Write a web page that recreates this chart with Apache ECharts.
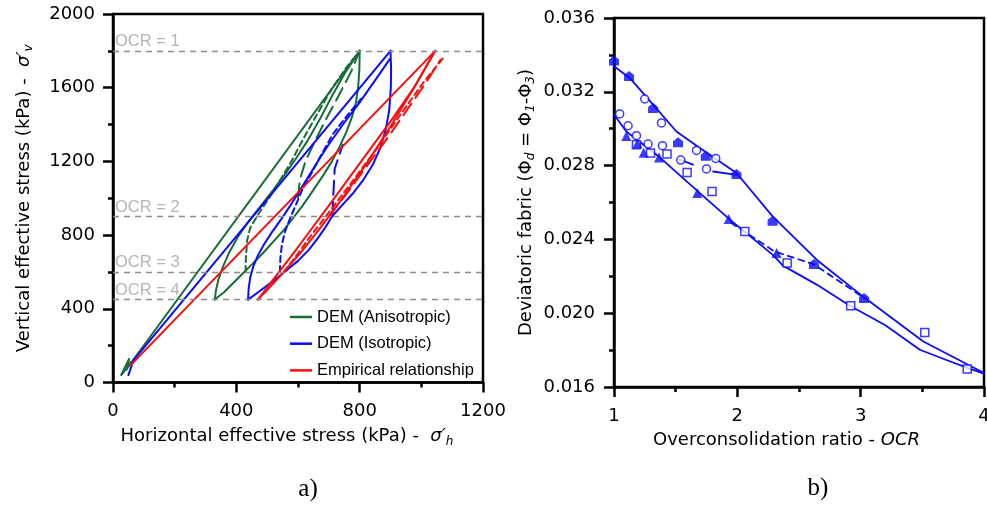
<!DOCTYPE html>
<html><head><meta charset="utf-8">
<script src="https://cdn.jsdelivr.net/npm/echarts@6/dist/echarts.min.js"></script>
<style>html,body{margin:0;padding:0;background:#fff;}#c{width:987px;height:507px;}</style>
</head><body><div id="c"></div>
<script>
// ---------- Panel a) : [horizontal effective stress, vertical effective stress] (kPa) ----------
const xTicksA = [0, 400, 800, 1200];
const yTicksA = [0, 400, 800, 1200, 1600, 2000];
const ocrLevels = [1, 2, 3, 4];
const ocrStress = [1800, 900, 600, 450];

const greenToe = [[27,42],[52,128],[44,70],[58,112]];
const greenLoad = [[27,42],[45,78],[60,110],[800,1800]];
const greenUnloadOCR4 = [[800,1800],[799,1700],[795,1600],[788,1520],[775,1440],[757,1360],[735,1280],[710,1200],[680,1120],[648,1040],[615,960],[585,895],[555,830],[520,765],[485,700],[450,640],[420,590],[390,540],[360,490],[330,450]];
const greenReloadOCR4 = [[330,450],[334,500],[342,560],[357,630],[378,710],[405,790],[440,875],[480,960],[520,1045],[560,1135],[595,1220],[630,1310],[668,1420],[712,1560],[756,1690],[800,1800]];
const greenReloadOCR3 = [[430,600],[431,680],[435,770],[445,840],[470,910],[500,985],[530,1065],[575,1190],[616,1318],[660,1450],[708,1590],[757,1710],[800,1800]];
const greenReloadOCR2 = [[600,1005],[606,1100],[624,1200],[652,1300],[688,1420],[733,1560],[773,1690],[800,1800]];

const blueLoad = [[50,40],[66,120],[900,1800]];
const blueUnloadOCR4 = [[900,1800],[902,1700],[901,1600],[896,1480],[884,1370],[866,1270],[842,1180],[812,1100],[780,1030],[745,965],[712,905],[690,845],[665,785],[635,720],[600,660],[560,605],[515,545],[475,495],[438,450]];
const blueReloadOCR4 = [[438,450],[440,510],[445,570],[455,630],[470,690],[490,750],[515,815],[545,885],[575,960],[605,1040],[635,1120],[668,1210],[703,1300],[750,1410],[800,1520],[850,1640],[897,1754]];
const blueReloadOCR3 = [[541,600],[543,680],[548,750],[558,820],[574,890],[592,960],[612,1040],[645,1140],[680,1250],[714,1350],[760,1450],[805,1540]];
const blueReloadOCR2 = [[712,905],[714,1000],[719,1160],[745,1290]];

const redLoad = [[55,90],[1045,1800]];
const redUnloadOCR4 = [[1045,1800],[976,1600],[904,1400],[827,1200],[744,1000],[700,900],[654,800],[606,700],[554,600],[499,500],[470,450]];
const redReloadOCR4 = [[470,450],[520,560],[580,690],[640,825],[700,960],[770,1120],[840,1280],[910,1440],[980,1610],[1045,1800]];
const redReloadOCR3 = [[554,600],[600,700],[643,800],[690,900],[780,1100],[860,1280],[935,1460],[1006,1627],[1075,1770]];
const redReloadOCR2 = [[700,900],[760,1030],[830,1190],[900,1350],[962,1500],[1020,1640],[1062,1752]];

// ---------- Panel b) : [OCR, deviatoric fabric] ----------
const xTicksB = [1, 2, 3, 4];
const yTicksB = [0.016, 0.020, 0.024, 0.028, 0.032, 0.036];
const upperLine = [[1.0,0.03338],[1.127,0.03275],[1.317,0.0313],[1.506,0.02985],[1.696,0.02895],[1.993,0.0276],[2.286,0.02525],[2.643,0.0229],[3.027,0.02086],[3.508,0.01847],[4.0,0.01676]];
const lowerLine = [[1.0,0.03076],[1.1,0.02985],[1.371,0.02845],[1.696,0.02651],[1.94,0.02507],[2.29,0.02315],[2.37,0.02258],[2.643,0.02155],[2.913,0.0204],[3.2,0.01935],[3.48,0.01802],[3.7,0.01745],[3.86,0.01705],[4.0,0.01672]];
const dashedLine = [[1.95,0.0249],[2.05,0.02445],[2.3,0.02335],[2.62,0.02265],[3.03,0.02082]];
const shortSeg1 = [[1.533,0.02832],[1.641,0.02805]];
const shortSeg2 = [[1.804,0.02768],[1.993,0.0275]];
const filledHouse = [[1.0,0.03369],[1.122,0.03286],[1.317,0.03112],[1.519,0.02926],[1.744,0.02854],[1.993,0.02754],[2.286,0.02501],[2.621,0.02267],[3.027,0.02082]];
const openCircles = [[1.046,0.0308],[1.114,0.03016],[1.182,0.02962],[1.249,0.03161],[1.276,0.02917],[1.385,0.03031],[1.393,0.02908],[1.541,0.0283],[1.669,0.02882],[1.75,0.02782],[1.825,0.02839]];
const openSquares = [[1.182,0.02913],[1.296,0.02868],[1.43,0.02863],[1.593,0.02762],[1.795,0.0266],[2.061,0.02443],[2.404,0.02272],[2.919,0.02041],[3.52,0.01896],[3.864,0.01698]];
const filledTriangles = [[1.1,0.0296],[1.19,0.0292],[1.24,0.0287],[1.365,0.02844],[1.675,0.02651],[1.93,0.0251],[2.318,0.02326]];

const GREEN = '#176c38', BLUE = '#0a0aff', RED = '#ff0a0a';
const FA = 'DejaVu Sans', FL = 'Liberation Sans';
const SHORT = [6,4], LONG = [14,7];

function ln(name, data, color, type, gi, width) {
  return { name, type:'line', xAxisIndex:gi, yAxisIndex:gi, data, symbol:'none', showSymbol:false,
    smooth:false, lineStyle:{color, width: width || 2, type: type || 'solid', join:'round', cap:'round'},
    itemStyle:{color}, silent:true, z:3, animation:false };
}
function sc(name, data, symbol, size, style) {
  return { name, type:'scatter', xAxisIndex:1, yAxisIndex:1, data, symbol, symbolSize:size,
    itemStyle:style, silent:true, clip:false, z:5, animation:false };
}
function axisCommon(min, max, interval, fmt) {
  return {
    type:'value', min, max, interval, scale:false,
    axisLine:{show:true, onZero:false, lineStyle:{color:'#000', width:2.5}},
    axisTick:{show:true, inside:false, length:10, lineStyle:{color:'#000', width:2.5}},
    minorTick:{show:true, splitNumber:2, length:5, lineStyle:{color:'#000', width:2.5}},
    splitLine:{show:false}, minorSplitLine:{show:false},
    axisLabel:{show:true, color:'#000', fontFamily:FA, fontSize:18, margin:20, formatter:fmt,
      showMinLabel:true, showMaxLabel:true, hideOverlap:false},
    nameLocation:'middle', nameMoveOverlap:false
  };
}

const nameRich = {
  t:{fontFamily:FA, fontSize:18, color:'#000', lineHeight:22},
  s:{fontFamily:FA, fontSize:18, color:'#000', lineHeight:22, fontStyle:'italic'},
  i:{fontFamily:FA, fontSize:18, color:'#000', lineHeight:22, fontStyle:'italic'},
  sub:{fontFamily:FA, fontSize:12, color:'#000', lineHeight:12, fontStyle:'italic', verticalAlign:'bottom'}
};
const plain = v => String(v);

const xA = Object.assign(axisCommon(xTicksA[0], xTicksA[xTicksA.length-1], xTicksA[1]-xTicksA[0], plain), {
  gridIndex:0, name:'{t|Horizontal effective stress (kPa) -  }{s|σ′}{sub|h}', nameGap:43,
  nameTextStyle:{fontFamily:FA, fontSize:18, color:'#000', rich:nameRich, padding:[0,22,0,0]} });
const yA = Object.assign(axisCommon(yTicksA[0], yTicksA[yTicksA.length-1], yTicksA[1]-yTicksA[0], plain), {
  gridIndex:0, name:'{t|Vertical effective stress (kPa) -  }{s|σ′}{sub|v}', nameGap:78,
  nameTextStyle:{fontFamily:FA, fontSize:18, color:'#000', rich:nameRich} });
yA.axisLabel.margin = 18;
const xB = Object.assign(axisCommon(xTicksB[0], xTicksB[xTicksB.length-1], xTicksB[1]-xTicksB[0], plain), {
  gridIndex:1, name:'{t|Overconsolidation ratio - }{i|OCR}', nameGap:42,
  nameTextStyle:{fontFamily:FA, fontSize:18, color:'#000', rich:nameRich, padding:[0,25,0,0]} });
const yB = Object.assign(axisCommon(yTicksB[0], yTicksB[yTicksB.length-1], 0.004, v => v.toFixed(3)), {
  gridIndex:1, name:'{t|Deviatoric fabric (Φ}{sub|d}{t| = Φ}{sub|1}{t|-Φ}{sub|3}{t|)}', nameGap:77,
  nameTextStyle:{fontFamily:FA, fontSize:18, color:'#000', rich:nameRich} });
yB.axisLabel.margin = 19;

const series = [
  { name:'OCR lines', type:'line', xAxisIndex:0, yAxisIndex:0, data:[], silent:true, z:1, animation:false,
    markLine:{ silent:true, symbol:['none','none'], animation:false,
      lineStyle:{color:'#8c8c8c', type:[6,5], width:1.3},
      label:{show:true, position:'insideStartTop', distance:[2,1], formatter:'{b}', color:'#b5b5b5', fontFamily:FL, fontSize:16.5},
      data: ocrStress.map((v,i) => ({yAxis:v, name:'OCR = ' + ocrLevels[i]})) } },
  ln('DEM (Anisotropic)', greenLoad, GREEN, 'solid', 0),
  ln('g toe', greenToe, GREEN, 'solid', 0),
  ln('g unload 4', greenUnloadOCR4, GREEN, 'solid', 0),
  ln('g reload 4', greenReloadOCR4, GREEN, 'solid', 0),
  ln('g reload 3', greenReloadOCR3, GREEN, SHORT, 0),
  ln('g reload 2', greenReloadOCR2, GREEN, LONG, 0),
  ln('DEM (Isotropic)', blueLoad, BLUE, 'solid', 0),
  ln('b unload 4', blueUnloadOCR4, BLUE, 'solid', 0),
  ln('b reload 4', blueReloadOCR4, BLUE, 'solid', 0),
  ln('b reload 3', blueReloadOCR3, BLUE, SHORT, 0),
  ln('b reload 2', blueReloadOCR2, BLUE, LONG, 0),
  ln('Empirical relationship', redLoad, RED, 'solid', 0),
  ln('r unload 4', redUnloadOCR4, RED, 'solid', 0),
  ln('r reload 4', redReloadOCR4, RED, 'solid', 0),
  ln('r reload 3', redReloadOCR3, RED, SHORT, 0),
  ln('r reload 2', redReloadOCR2, RED, LONG, 0),
  // panel b
  ln('upper', upperLine, BLUE, 'solid', 1, 1.8),
  ln('lower', lowerLine, BLUE, 'solid', 1, 1.8),
  ln('dashed', dashedLine, BLUE, [6,5], 1, 1.8),
  ln('seg1', shortSeg1, BLUE, 'solid', 1, 1.8),
  ln('seg2', shortSeg2, BLUE, 'solid', 1, 1.8),
  sc('open circles', openCircles, 'circle', 8, {color:'#fff', borderColor:BLUE, borderWidth:1.5}),
  sc('open squares', openSquares, 'rect', 8, {color:'#fff', borderColor:BLUE, borderWidth:1.5}),
  sc('triangles', filledTriangles, 'triangle', 10, {color:BLUE}),
  sc('filled', filledHouse, 'path://M5,0 L10,4 L10,10 L0,10 L0,4 Z', [10,10], {color:BLUE})
];

const chart = echarts.init(document.getElementById('c'), null, {renderer:'canvas'});
chart.setOption({
  animation:false,
  backgroundColor:'#fff',
  grid:[
    {left:113, top:14, width:370, height:368.5, show:true, borderColor:'#000', borderWidth:2.5, backgroundColor:'transparent', containLabel:false, outerBoundsMode:'none'},
    {left:614, top:18, width:370, height:369, show:true, borderColor:'#000', borderWidth:2.5, backgroundColor:'transparent', containLabel:false, outerBoundsMode:'none'}
  ],
  xAxis:[xA, xB],
  yAxis:[yA, yB],
  legend:{ data:['DEM (Anisotropic)','DEM (Isotropic)','Empirical relationship'], orient:'vertical',
    left:285, top:302, itemWidth:22, itemHeight:2.5, itemGap:6.7, icon:'rect', selectedMode:false,
    textStyle:{fontFamily:FL, fontSize:16.5, color:'#000', lineHeight:20} },
  graphic:[
    {type:'text', x:308, y:489, style:{text:'a)', fontFamily:'Liberation Serif', fontSize:25, fill:'#000', align:'center', verticalAlign:'middle'}},
    {type:'text', x:818, y:488, style:{text:'b)', fontFamily:'Liberation Serif', fontSize:25, fill:'#000', align:'center', verticalAlign:'middle'}}
  ],
  series
});
</script></body></html>
